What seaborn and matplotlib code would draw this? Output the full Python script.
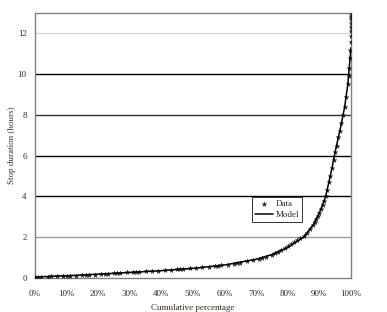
import matplotlib
matplotlib.use("Agg")
import matplotlib.pyplot as plt
import seaborn as sns
import pandas as pd

# Observed data (cumulative fraction, stop duration in hours)
data_pct = [0.00, 0.01, 0.02, 0.04, 0.05, 0.07, 0.09, 0.10, 0.11, 0.13, 0.15, 0.16,
            0.17, 0.19, 0.21, 0.22, 0.23, 0.25, 0.26, 0.27, 0.29, 0.31, 0.32, 0.33,
            0.35, 0.37, 0.39, 0.41, 0.43, 0.45, 0.46, 0.47, 0.49, 0.51, 0.53, 0.55,
            0.57, 0.58, 0.59, 0.61, 0.63, 0.64, 0.65, 0.67, 0.69, 0.71, 0.72, 0.73,
            0.75, 0.76, 0.77, 0.78, 0.79, 0.80, 0.81, 0.82, 0.83, 0.84, 0.85, 0.86,
            0.87, 0.88, 0.885, 0.89, 0.895, 0.90, 0.905, 0.91, 0.915, 0.92, 0.925,
            0.93, 0.935, 0.94, 0.945, 0.95, 0.955, 0.96, 0.965, 0.97, 0.975, 0.98,
            0.985, 0.99, 0.993, 0.995, 0.997, 0.998, 0.999, 1.0, 1.0, 1.0, 1.0, 1.0,
            1.0, 1.0]
data_hours = [0.05, 0.05, 0.06, 0.07, 0.08, 0.09, 0.10, 0.11, 0.12, 0.12, 0.14, 0.15,
              0.16, 0.17, 0.19, 0.20, 0.21, 0.23, 0.24, 0.25, 0.27, 0.28, 0.29, 0.30,
              0.32, 0.34, 0.36, 0.38, 0.40, 0.42, 0.44, 0.45, 0.47, 0.50, 0.52, 0.55,
              0.58, 0.60, 0.62, 0.66, 0.70, 0.73, 0.76, 0.82, 0.88, 0.95, 1.00, 1.05,
              1.15, 1.22, 1.30, 1.38, 1.45, 1.55, 1.65, 1.75, 1.85, 1.95, 2.05, 2.20,
              2.40, 2.60, 2.75, 2.90, 3.05, 3.20, 3.40, 3.60, 3.80, 4.00, 4.30,
              4.70, 5.00, 5.40, 5.80, 6.20, 6.50, 6.90, 7.20, 7.60, 8.00, 8.40,
              8.90, 9.50, 9.90, 10.30, 10.80, 11.20, 11.60, 11.90, 12.10, 12.30, 12.50, 12.70,
              12.80, 12.90]

# Model curve
model_pct = [0.0, 0.1, 0.2, 0.3, 0.4, 0.5, 0.6, 0.7, 0.75, 0.8, 0.85, 0.88, 0.9,
             0.92, 0.93, 0.94, 0.95, 0.96, 0.97, 0.98, 0.99, 1.0]
model_hours = [0.05, 0.11, 0.19, 0.27, 0.36, 0.47, 0.64, 0.92, 1.15, 1.5, 2.0, 2.6, 3.2,
               4.0, 4.7, 5.4, 6.2, 6.9, 7.6, 8.4, 9.5, 11.3]

x_ticks = [0.0, 0.1, 0.2, 0.3, 0.4, 0.5, 0.6, 0.7, 0.8, 0.9, 1.0]
x_labels = ["0%", "10%", "20%", "30%", "40%", "50%", "60%", "70%", "80%", "90%", "100%"]
y_ticks = [0, 2, 4, 6, 8, 10, 12]

sns.set_theme(style="white")
plt.rcParams['font.family'] = ['Liberation Serif', 'DejaVu Serif']

df_data = pd.DataFrame({"pct": data_pct, "hours": data_hours})
df_model = pd.DataFrame({"pct": model_pct, "hours": model_hours})

fig = plt.figure(figsize=(3.87, 3.12), dpi=100)
ax = fig.add_axes([0.0904, 0.109, 0.8165, 0.849])

sns.scatterplot(data=df_data, x="pct", y="hours", ax=ax, marker="*", s=12,
                color="#222222", edgecolor="#222222", linewidth=0.3, label="Data", zorder=3)
sns.lineplot(data=df_model, x="pct", y="hours", ax=ax, color="black",
             linewidth=1.1, label="Model", zorder=4)

ax.set_xlim(0, 1.0)
ax.set_ylim(0, 13)
ax.set_xticks(x_ticks)
ax.set_xticklabels(x_labels)
ax.set_yticks(y_ticks)

ax.yaxis.grid(True)
grid_colors = ["#ffffff", "#999999", "black", "black", "#333333", "black", "#d8d8d8"]
for gl, c in zip(ax.get_ygridlines(), grid_colors):
    gl.set_color(c)
    gl.set_linewidth(1.0)
ax.xaxis.grid(False)

for s in ax.spines.values():
    s.set_color("#808080")
    s.set_linewidth(1.0)

ax.tick_params(axis="both", which="both", direction="out", length=3, width=0.8,
               colors="#808080", labelsize=6.5, labelcolor="#3a2a1a", pad=3)
ax.tick_params(axis="x", pad=6)

ax.set_xlabel("Cumulative percentage", fontsize=6.5, color="#3a2a1a", labelpad=4)
ax.set_ylabel("Stop duration (hours)", fontsize=6.5, color="#2a3550", labelpad=1)

leg = ax.legend(loc="upper left", bbox_to_anchor=(0.687, 0.305), fontsize=6.5,
                frameon=True, fancybox=False, borderpad=0.3, handlelength=2.0,
                handletextpad=0.3, labelspacing=0.3, borderaxespad=0)
leg.get_frame().set_edgecolor("black")
leg.get_frame().set_linewidth(0.7)
for t in leg.get_texts():
    t.set_color("#2a2a2a")

fig.savefig("out.png", dpi=100)
